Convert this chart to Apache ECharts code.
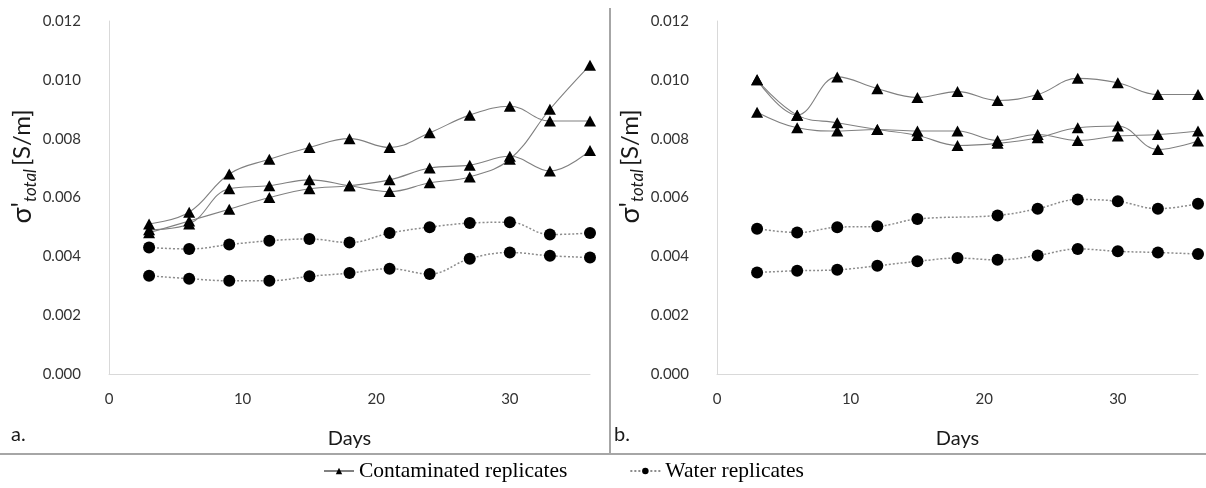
<!DOCTYPE html>
<html>
<head>
<meta charset="utf-8">
<script src="https://cdn.jsdelivr.net/npm/echarts@6/dist/echarts.min.js"></script>
<style>
html,body{margin:0;padding:0;background:#fff;}
#chart{width:1206px;height:488px;}
</style>
</head>
<body>
<div id="chart"></div>
<script>
// ---- data ----
const days = [3, 6, 9, 12, 15, 18, 21, 24, 27, 30, 33, 36];
const yTicks = ['0.000', '0.002', '0.004', '0.006', '0.008', '0.010', '0.012'];
const xTicks = ['0', '10', '20', '30'];

const leftC1 = [0.0051, 0.0055, 0.0068, 0.0073, 0.0077, 0.0080, 0.0077, 0.0082, 0.0088, 0.0091, 0.0086, 0.0086];
const leftC2 = [0.0049, 0.0051, 0.0063, 0.0064, 0.0066, 0.0064, 0.0062, 0.0065, 0.0067, 0.0073, 0.0090, 0.0105];
const leftC3 = [0.0048, 0.0052, 0.0056, 0.0060, 0.0063, 0.0064, 0.0066, 0.0070, 0.0071, 0.0074, 0.0069, 0.0076];
const leftW1 = [0.00430, 0.00425, 0.00440, 0.00453, 0.00459, 0.00447, 0.00479, 0.00499, 0.00513, 0.00516, 0.00474, 0.00479];
const leftW2 = [0.00334, 0.00324, 0.00317, 0.00317, 0.00332, 0.00343, 0.00358, 0.00340, 0.00392, 0.00413, 0.00402, 0.00396];

const rightC1 = [0.0100, 0.0088, 0.0101, 0.0097, 0.0094, 0.0096, 0.0093, 0.0095, 0.01005, 0.0099, 0.0095, 0.0095];
const rightC2 = [0.0100, 0.0088, 0.00854, 0.00831, 0.00811, 0.00777, 0.00784, 0.00803, 0.00837, 0.00843, 0.00763, 0.00792];
const rightC3 = [0.0089, 0.00837, 0.00826, 0.00831, 0.00826, 0.00826, 0.00794, 0.00814, 0.00794, 0.00809, 0.00814, 0.00826];
const rightW1 = [0.00494, 0.00481, 0.00499, 0.00502, 0.00527, null, 0.00539, 0.00562, 0.00593, 0.00587, 0.00562, 0.00579];
const rightW2 = [0.00345, 0.00351, 0.00354, 0.00368, 0.00383, 0.00394, 0.00388, 0.00403, 0.00425, 0.00417, 0.00413, 0.00408];

const CONT = 'Contaminated replicates';
const WATER = 'Water replicates';

// ---- build ----
const pairs = arr => days.map((d, i) => [d, arr[i]]);
const axisFont = 'Lato, "Liberation Sans", sans-serif';

function contSeries(arr, idx) {
  return {
    name: CONT, type: 'line', xAxisIndex: idx, yAxisIndex: idx,
    data: pairs(arr), smooth: 0.4,
    symbol: 'triangle', symbolSize: [12, 11],
    itemStyle: { color: '#000' },
    lineStyle: { color: '#808080', width: 1.1 },
    emphasis: { disabled: true }
  };
}
function waterSeries(arr, idx) {
  return {
    name: WATER, type: 'line', xAxisIndex: idx, yAxisIndex: idx,
    data: pairs(arr), smooth: 0.4, connectNulls: true,
    symbol: 'circle', symbolSize: 12,
    itemStyle: { color: '#000' },
    lineStyle: { color: '#8c8c8c', width: 1.5, type: [2, 2] },
    emphasis: { disabled: true }
  };
}

function xAxis(idx) {
  return {
    type: 'value', gridIndex: idx, min: 0, max: 36, interval: 10,
    name: 'Days', nameLocation: 'middle', nameGap: 55,
    nameTextStyle: { fontFamily: axisFont, fontSize: 20, color: '#1a1a1a' },
    axisLine: { show: true, lineStyle: { color: '#d9d9d9', width: 1 } },
    axisTick: { show: false },
    splitLine: { show: false },
    axisLabel: {
      showMaxLabel: false, margin: 18,
      fontFamily: axisFont, fontSize: 15, color: '#333',
      formatter: v => xTicks[v / 10]
    }
  };
}
function yAxis(idx, gap) {
  return {
    type: 'value', gridIndex: idx, min: 0, max: 0.012, interval: 0.002,
    name: '{s|σ\'}{t|total}{u|[S/m]}',
    nameLocation: 'middle', nameGap: gap, nameRotate: 90,
    nameTextStyle: {
      fontFamily: axisFont, color: '#1a1a1a',
      rich: {
        s: { fontFamily: axisFont, fontSize: 27, lineHeight: 32, verticalAlign: 'middle', color: '#1a1a1a', padding: [0, 0, 0, 62] },
        t: { fontFamily: axisFont, fontSize: 17, fontStyle: 'italic', lineHeight: 32, verticalAlign: 'bottom', color: '#1a1a1a', padding: [12, 3, 0, 0] },
        u: { fontFamily: axisFont, fontSize: 24, lineHeight: 32, verticalAlign: 'middle', color: '#1a1a1a' }
      }
    },
    axisLine: { show: true, lineStyle: { color: '#d9d9d9', width: 1 } },
    axisTick: { show: false },
    splitLine: { show: false },
    axisLabel: {
      margin: 28, fontFamily: axisFont, fontSize: 15, color: '#333',
      formatter: v => yTicks[Math.round(v / 0.002)]
    }
  };
}

const chart = echarts.init(document.getElementById('chart'), null, { renderer: 'canvas' });
chart.setOption({
  backgroundColor: '#fff',
  animation: false,
  grid: [
    { left: 109, top: 21, width: 481, height: 353 },
    { left: 717, top: 21, width: 481, height: 353 }
  ],
  xAxis: [xAxis(0), xAxis(1)],
  yAxis: [yAxis(0, 51), yAxis(1, 71)],
  legend: {
    data: [CONT, WATER],
    left: 318, top: 455,
    itemWidth: 30, itemHeight: 8, itemGap: 62,
    textStyle: { fontFamily: '"Liberation Serif", "Times New Roman", serif', fontSize: 21.5, color: '#000' },
    selectedMode: false
  },
  graphic: [
    { type: 'line', shape: { x1: 610, y1: 8, x2: 610, y2: 454 }, style: { stroke: '#a6a6a6', lineWidth: 2 } },
    { type: 'line', shape: { x1: 0, y1: 454, x2: 1206, y2: 454 }, style: { stroke: '#a6a6a6', lineWidth: 2 } },
    { type: 'text', left: 11, top: 425, style: { text: 'a.', font: '20px Lato, sans-serif', fill: '#1a1a1a' } },
    { type: 'text', left: 614, top: 425, style: { text: 'b.', font: '20px Lato, sans-serif', fill: '#1a1a1a' } }
  ],
  series: [
    contSeries(leftC1, 0), contSeries(leftC2, 0), contSeries(leftC3, 0),
    waterSeries(leftW1, 0), waterSeries(leftW2, 0),
    contSeries(rightC1, 1), contSeries(rightC2, 1), contSeries(rightC3, 1),
    waterSeries(rightW1, 1), waterSeries(rightW2, 1)
  ]
});
</script>
</body>
</html>
